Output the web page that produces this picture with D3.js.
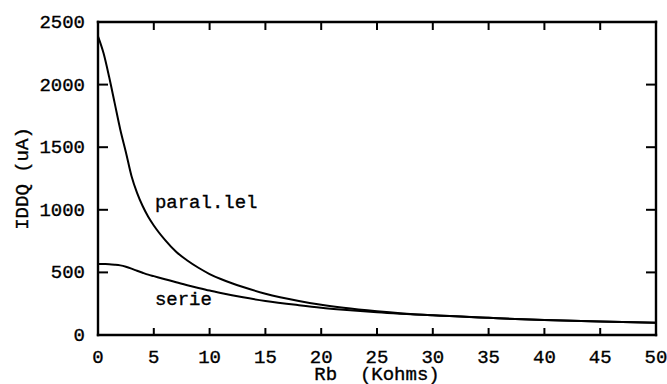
<!DOCTYPE html>
<html>
<head>
<meta charset="utf-8">
<script src="https://cdn.jsdelivr.net/npm/d3@7"></script>
<style>
  html, body { margin: 0; padding: 0; background: #fff; }
  svg { display: block; }
  text { font-family: "Liberation Mono", "DejaVu Sans Mono", monospace; fill: #000; white-space: pre; }
</style>
</head>
<body>
<svg id="chart" width="667" height="384"></svg>
<script>
// Rb in kilo-ohms
const rb = [0, 0.5, 1, 1.5, 2, 2.5, 3, 3.5, 4, 4.5, 5, 6, 7, 8, 9, 10, 11, 12, 13, 15, 18, 20, 22, 25, 30, 35, 40, 45, 50];
// IDDQ (uA) with the resistors in parallel
const paralValues = [2385, 2250, 2060, 1850, 1640, 1460, 1270, 1135, 1030, 945, 875, 760, 665, 595, 537, 487, 447, 413, 383, 330, 272, 242, 218, 190, 157, 137, 119, 107, 97];
// IDDQ (uA) with the resistors in series
const serieValues = [568, 567, 566, 562, 556, 545, 530, 513, 497, 482, 470, 446, 421, 398, 376, 355, 336, 318, 301, 272, 238, 218, 202, 182, 157, 137, 119, 107, 97];

const xTicks = [0, 5, 10, 15, 20, 25, 30, 35, 40, 45, 50];
const yTicks = [0, 500, 1000, 1500, 2000, 2500];
const xTitle = "Rb  (Kohms)";
const yTitle = "IDDQ (uA)";
const curveLabels = [
  { text: "paral.lel", x: 5.1, y: 1015 },
  { text: "serie", x: 5.1, y: 240 }
];

const svg = d3.select("#chart");
const W = 667, H = 384;
const x = d3.scaleLinear().domain([0, 50]).range([98, 656]);
const y = d3.scaleLinear().domain([0, 2500]).range([335, 22]);

const fontSize = 19;
const inkStroke = 0.35;
const innerX = xTicks.slice(1, -1);
const innerY = yTicks.slice(1, -1);

// frame: four sides
const sides = [
  [0, 0, 50, 0], [50, 0, 50, 2500], [50, 2500, 0, 2500], [0, 2500, 0, 0]
];
svg.selectAll("line.side").data(sides).enter().append("line")
  .attr("class", "side")
  .attr("x1", d => x(d[0])).attr("y1", d => y(d[1]))
  .attr("x2", d => x(d[2])).attr("y2", d => y(d[3]))
  .attr("stroke", "black").attr("stroke-width", 2.4).attr("stroke-linecap", "square");

// inward tick marks
svg.selectAll("line.tb").data(innerX).enter().append("line").attr("class", "tb")
  .attr("x1", d => x(d)).attr("x2", d => x(d)).attr("y1", y(0)).attr("y2", y(0) - 7)
  .attr("stroke", "black").attr("stroke-width", 2);
svg.selectAll("line.tt").data(innerX).enter().append("line").attr("class", "tt")
  .attr("x1", d => x(d)).attr("x2", d => x(d)).attr("y1", y(2500)).attr("y2", y(2500) + 8)
  .attr("stroke", "black").attr("stroke-width", 2);
svg.selectAll("line.tl").data(innerY).enter().append("line").attr("class", "tl")
  .attr("x1", x(0)).attr("x2", x(0) + 10).attr("y1", d => y(d)).attr("y2", d => y(d))
  .attr("stroke", "black").attr("stroke-width", 2);
svg.selectAll("line.tr").data(innerY).enter().append("line").attr("class", "tr")
  .attr("x1", x(50)).attr("x2", x(50) - 10).attr("y1", d => y(d)).attr("y2", d => y(d))
  .attr("stroke", "black").attr("stroke-width", 2);

// tick labels
svg.selectAll("text.xl").data(xTicks).enter().append("text").attr("class", "xl")
  .attr("x", d => x(d)).attr("y", 363)
  .attr("text-anchor", "middle").attr("font-size", fontSize)
  .attr("stroke", "black").attr("stroke-width", inkStroke)
  .text(d => d3.format("d")(d));
svg.selectAll("text.yl").data(yTicks).enter().append("text").attr("class", "yl")
  .attr("x", x(0) - 13).attr("y", d => y(d)).attr("dy", "0.32em")
  .attr("text-anchor", "end").attr("font-size", fontSize)
  .attr("stroke", "black").attr("stroke-width", inkStroke)
  .text(d => d3.format("d")(d));

// curves
const line = d3.line().x((d, i) => x(rb[i])).y(d => y(d)).curve(d3.curveMonotoneX);
[paralValues, serieValues].forEach(vals => {
  svg.append("path").attr("d", line(vals))
    .attr("fill", "none").attr("stroke", "black").attr("stroke-width", 2);
});

// curve labels
svg.selectAll("text.clabel").data(curveLabels).enter().append("text")
  .attr("class", "clabel")
  .attr("x", d => x(d.x)).attr("y", d => y(d.y))
  .attr("font-size", fontSize)
  .attr("stroke", "black").attr("stroke-width", inkStroke)
  .text(d => d.text);

// axis titles
svg.append("text")
  .attr("x", (x(0) + x(50)) / 2).attr("y", 380)
  .attr("text-anchor", "middle").attr("font-size", fontSize)
  .attr("stroke", "black").attr("stroke-width", inkStroke)
  .text(xTitle);
svg.append("text")
  .attr("transform", `translate(28,${(y(0) + y(2500)) / 2}) rotate(-90)`)
  .attr("text-anchor", "middle").attr("font-size", fontSize)
  .attr("stroke", "black").attr("stroke-width", inkStroke)
  .text(yTitle);
</script>
</body>
</html>
